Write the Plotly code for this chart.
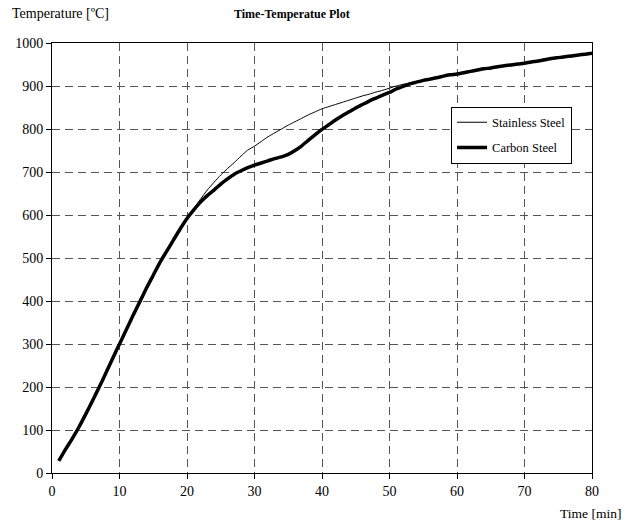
import plotly.graph_objects as go

time_min = list(range(1, 81))

stainless = [28, 55, 80, 107, 137, 168, 200, 233, 267, 300,
             333, 366, 398, 430, 460, 490, 516, 542, 568, 593,
             615, 637, 658, 676, 693, 708, 722, 737, 751, 760,
             771, 782, 791, 800, 809, 817, 825, 833, 840, 847,
             852, 857, 862, 867, 872, 877, 881, 886, 890, 895,
             900, 904, 907, 910, 913, 916, 919, 923, 926, 929,
             932, 935, 938, 941, 943, 946, 948, 950, 952, 954,
             957, 959, 962, 965, 967, 969, 971, 973, 975, 977]

carbon = [28, 55, 80, 107, 137, 168, 200, 233, 267, 300,
          333, 366, 398, 430, 460, 490, 516, 542, 568, 592,
          612, 630, 645, 658, 672, 684, 695, 703, 710, 716,
          721, 726, 731, 735, 741, 750, 761, 774, 787, 799,
          810, 821, 831, 840, 849, 857, 865, 872, 879, 885,
          893, 899, 905, 909, 913, 916, 919, 923, 926, 928,
          931, 934, 937, 940, 942, 945, 947, 949, 951, 953,
          956, 958, 961, 964, 966, 968, 970, 972, 974, 976]

FONT = "Times New Roman"

fig = go.Figure()
fig.add_trace(go.Scatter(x=time_min, y=stainless, mode="lines", name="Stainless Steel",
                         line=dict(color="black", width=1, shape="spline", smoothing=0.6),
                         legendgroup="a"))
fig.add_trace(go.Scatter(x=time_min, y=carbon, mode="lines", name="Carbon Steel",
                         line=dict(color="black", width=3.5, shape="spline", smoothing=0.6),
                         legendgroup="b"))

axis_common = dict(
    showline=True, linecolor="black", linewidth=1, mirror=True,
    ticks="outside", ticklen=5, tickcolor="black", tickwidth=1,
    showgrid=True, gridcolor="#555555", gridwidth=1, griddash="8px,5px",
    zeroline=False, tickfont=dict(family=FONT, size=14, color="black"),
)

fig.update_xaxes(range=[0, 80], dtick=10, tick0=0, **axis_common)
fig.update_yaxes(range=[0, 1000], dtick=100, tick0=0, **axis_common)

fig.update_layout(
    width=626, height=527,
    margin=dict(l=52, r=34, t=43, b=54),
    plot_bgcolor="white", paper_bgcolor="white",
    font=dict(family=FONT, size=12, color="black"),
    showlegend=True,
    legend=dict(x=0.739, y=0.852, xanchor="left", yanchor="top",
                bordercolor="black", borderwidth=1, bgcolor="white",
                font=dict(family=FONT, size=12.5, color="black"),
                tracegroupgap=6),
    annotations=[
        dict(text="Temperature [ºC]", xref="paper", yref="paper",
             x=-42/540, y=1 + 29/430, xanchor="left", yanchor="middle",
             showarrow=False, font=dict(family=FONT, size=14)),
        dict(text="<b>Time-Temperatue Plot</b>", xref="paper", yref="paper",
             x=(232-52)/540, y=1 + 29/430, xanchor="left", yanchor="middle",
             showarrow=False, font=dict(family=FONT, size=12)),
        dict(text="Time [min]", xref="paper", yref="paper",
             x=(623-52)/540, y=-(513-473)/430, xanchor="right", yanchor="middle",
             showarrow=False, font=dict(family=FONT, size=13.5)),
    ],
)

fig.write_html("out.html", config={"displayModeBar": False},
               post_script="document.body.style.margin='0px';document.body.style.overflow='hidden';")
